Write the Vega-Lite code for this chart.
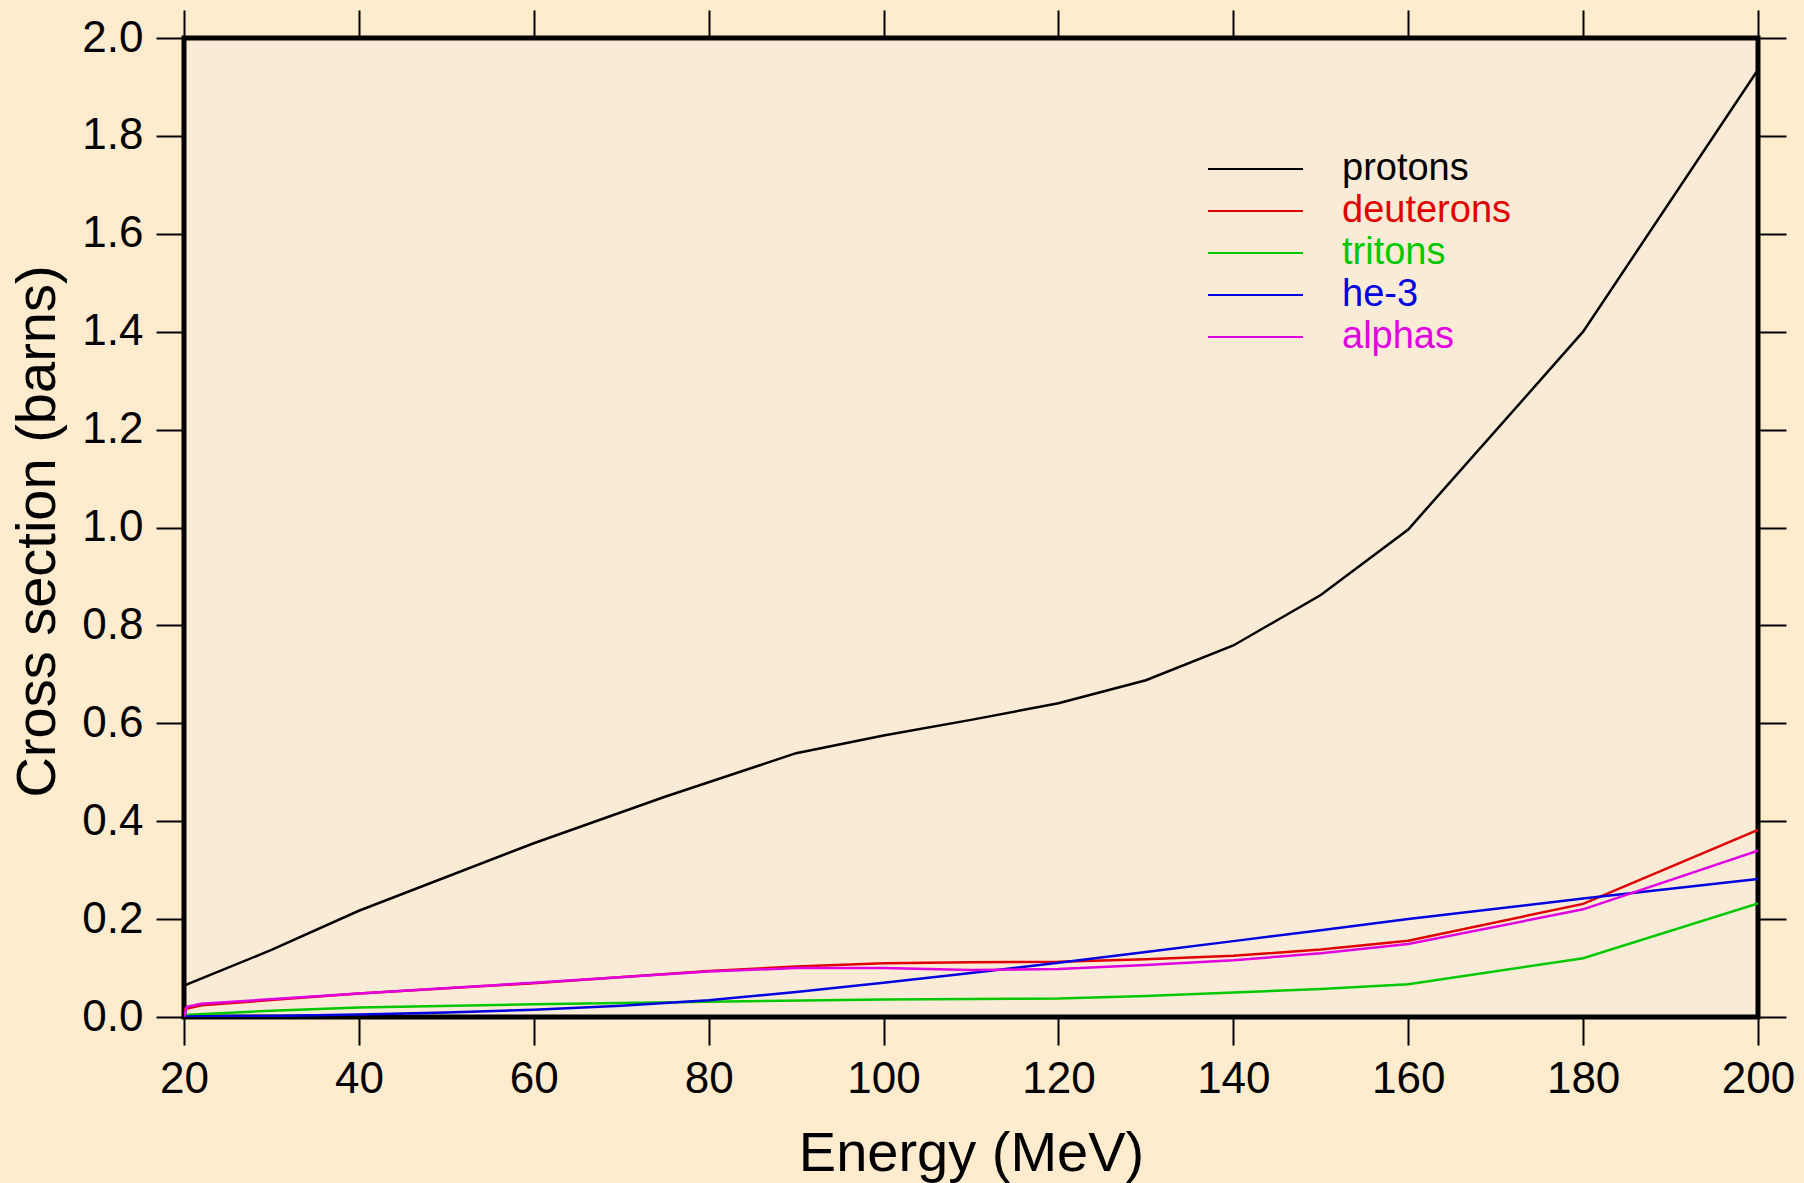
{
  "$schema": "https://vega.github.io/schema/vega-lite/v6.json",
  "width": 1574,
  "height": 979,
  "autosize": {"type": "none"},
  "padding": {"left": 184, "top": 38, "right": 46, "bottom": 166},
  "background": "#FFEBCD",
  "config": {
    "view": {"fill": "#FAEBD7", "stroke": "#000000", "strokeWidth": 5},
    "font": "Liberation Sans",
    "axis": {
      "grid": false, "domain": false, "tickColor": "#000000", "tickWidth": 2, "tickSize": 28,
      "labelFontSize": 44, "labelColor": "#000000", "labelFont": "Liberation Sans",
      "titleFontSize": 56, "titleFontWeight": "normal", "titleColor": "#000000", "titleFont": "Liberation Sans",
      "labelFlush": false, "labelOverlap": false
    }
  },
  "data": {"values": [
    {"particle": "protons", "energy": 20, "xs": 0.064},
    {"particle": "protons", "energy": 30, "xs": 0.137},
    {"particle": "protons", "energy": 40, "xs": 0.217},
    {"particle": "protons", "energy": 60, "xs": 0.355},
    {"particle": "protons", "energy": 75, "xs": 0.450},
    {"particle": "protons", "energy": 90, "xs": 0.539},
    {"particle": "protons", "energy": 100, "xs": 0.575},
    {"particle": "protons", "energy": 110, "xs": 0.607},
    {"particle": "protons", "energy": 120, "xs": 0.641},
    {"particle": "protons", "energy": 130, "xs": 0.688},
    {"particle": "protons", "energy": 140, "xs": 0.759},
    {"particle": "protons", "energy": 150, "xs": 0.862},
    {"particle": "protons", "energy": 160, "xs": 0.996},
    {"particle": "protons", "energy": 180, "xs": 1.400},
    {"particle": "protons", "energy": 200, "xs": 1.935},
    {"particle": "deuterons", "energy": 20, "xs": 0.016},
    {"particle": "deuterons", "energy": 22, "xs": 0.024},
    {"particle": "deuterons", "energy": 40, "xs": 0.048},
    {"particle": "deuterons", "energy": 60, "xs": 0.069},
    {"particle": "deuterons", "energy": 80, "xs": 0.094},
    {"particle": "deuterons", "energy": 90, "xs": 0.103},
    {"particle": "deuterons", "energy": 100, "xs": 0.110},
    {"particle": "deuterons", "energy": 110, "xs": 0.112},
    {"particle": "deuterons", "energy": 120, "xs": 0.113},
    {"particle": "deuterons", "energy": 130, "xs": 0.118},
    {"particle": "deuterons", "energy": 140, "xs": 0.125},
    {"particle": "deuterons", "energy": 150, "xs": 0.138},
    {"particle": "deuterons", "energy": 160, "xs": 0.156},
    {"particle": "deuterons", "energy": 180, "xs": 0.231},
    {"particle": "deuterons", "energy": 200, "xs": 0.382},
    {"particle": "tritons", "energy": 20, "xs": 0.004},
    {"particle": "tritons", "energy": 30, "xs": 0.013},
    {"particle": "tritons", "energy": 40, "xs": 0.0195},
    {"particle": "tritons", "energy": 60, "xs": 0.026},
    {"particle": "tritons", "energy": 80, "xs": 0.031},
    {"particle": "tritons", "energy": 100, "xs": 0.036},
    {"particle": "tritons", "energy": 120, "xs": 0.038},
    {"particle": "tritons", "energy": 130, "xs": 0.043},
    {"particle": "tritons", "energy": 140, "xs": 0.050},
    {"particle": "tritons", "energy": 150, "xs": 0.057},
    {"particle": "tritons", "energy": 160, "xs": 0.067},
    {"particle": "tritons", "energy": 180, "xs": 0.120},
    {"particle": "tritons", "energy": 200, "xs": 0.232},
    {"particle": "he-3", "energy": 20, "xs": 0.001},
    {"particle": "he-3", "energy": 30, "xs": 0.002},
    {"particle": "he-3", "energy": 40, "xs": 0.005},
    {"particle": "he-3", "energy": 50, "xs": 0.009},
    {"particle": "he-3", "energy": 60, "xs": 0.015},
    {"particle": "he-3", "energy": 70, "xs": 0.023},
    {"particle": "he-3", "energy": 80, "xs": 0.034},
    {"particle": "he-3", "energy": 90, "xs": 0.051},
    {"particle": "he-3", "energy": 100, "xs": 0.070},
    {"particle": "he-3", "energy": 110, "xs": 0.090},
    {"particle": "he-3", "energy": 120, "xs": 0.111},
    {"particle": "he-3", "energy": 130, "xs": 0.133},
    {"particle": "he-3", "energy": 140, "xs": 0.155},
    {"particle": "he-3", "energy": 150, "xs": 0.177},
    {"particle": "he-3", "energy": 160, "xs": 0.200},
    {"particle": "he-3", "energy": 180, "xs": 0.242},
    {"particle": "he-3", "energy": 200, "xs": 0.282},
    {"particle": "alphas", "energy": 20, "xs": 0.0},
    {"particle": "alphas", "energy": 20.3, "xs": 0.021},
    {"particle": "alphas", "energy": 22, "xs": 0.027},
    {"particle": "alphas", "energy": 40, "xs": 0.048},
    {"particle": "alphas", "energy": 60, "xs": 0.070},
    {"particle": "alphas", "energy": 80, "xs": 0.093},
    {"particle": "alphas", "energy": 90, "xs": 0.100},
    {"particle": "alphas", "energy": 100, "xs": 0.100},
    {"particle": "alphas", "energy": 110, "xs": 0.096},
    {"particle": "alphas", "energy": 120, "xs": 0.098},
    {"particle": "alphas", "energy": 130, "xs": 0.106},
    {"particle": "alphas", "energy": 140, "xs": 0.116},
    {"particle": "alphas", "energy": 150, "xs": 0.130},
    {"particle": "alphas", "energy": 160, "xs": 0.149},
    {"particle": "alphas", "energy": 180, "xs": 0.220},
    {"particle": "alphas", "energy": 200, "xs": 0.340}
  ]},
  "layer": [
    {
      "mark": {"type": "line", "strokeWidth": 2.5, "clip": true},
      "encoding": {
        "x": {"field": "energy", "type": "quantitative",
          "scale": {"domain": [20, 200], "nice": false, "zero": false},
          "axis": {"orient": "bottom", "values": [20, 40, 60, 80, 100, 120, 140, 160, 180, 200],
            "title": "Energy (MeV)", "labelPadding": 12, "titleBaseline": "alphabetic", "titleY": 153}},
        "y": {"field": "xs", "type": "quantitative",
          "scale": {"domain": [0, 2], "nice": false, "zero": false},
          "axis": {"orient": "left", "values": [0, 0.2, 0.4, 0.6, 0.8, 1.0, 1.2, 1.4, 1.6, 1.8, 2.0], "format": ".1f",
            "title": "Cross section (barns)", "labelPadding": 13, "titleAngle": -90, "titleBaseline": "alphabetic",
            "titleAlign": "center", "titleX": -130, "titleY": 493}},
        "color": {"field": "particle", "type": "nominal",
          "scale": {"domain": ["protons", "deuterons", "tritons", "he-3", "alphas"],
                    "range": ["#000000", "#E00000", "#00C800", "#0000E0", "#E000E0"]},
          "legend": {"orient": "none", "legendX": 1023, "legendY": 110, "title": null,
            "symbolType": "stroke", "symbolSize": 9025, "symbolStrokeWidth": 2,
            "labelFontSize": 38, "labelFont": "Liberation Sans", "labelLimit": 0, "clipHeight": 42, "rowPadding": 0,
            "labelOffset": 38, "padding": 0,
            "encode": {"labels": {"update": {"fill": {"scale": "color", "field": "value"}}}}}}
      }
    },
    {
      "mark": {"type": "line", "opacity": 0},
      "encoding": {
        "x": {"field": "energy", "type": "quantitative",
          "axis": {"orient": "top", "values": [20, 40, 60, 80, 100, 120, 140, 160, 180, 200], "labels": false, "title": null}},
        "y": {"field": "xs", "type": "quantitative",
          "axis": {"orient": "right", "values": [0, 0.2, 0.4, 0.6, 0.8, 1.0, 1.2, 1.4, 1.6, 1.8, 2.0], "labels": false, "title": null}},
        "detail": {"field": "particle"}
      }
    }
  ],
  "resolve": {"axis": {"x": "independent", "y": "independent"}}
}
